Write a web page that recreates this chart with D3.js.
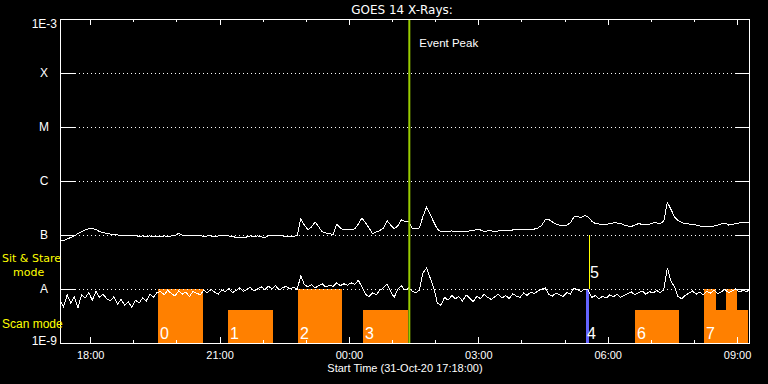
<!DOCTYPE html>
<html><head><meta charset="utf-8">
<script src="https://cdn.jsdelivr.net/npm/d3@7"></script>
<style>html,body{margin:0;padding:0;background:#000;} svg{display:block;}</style>
</head><body>
<svg id="chart" width="768" height="384"></svg>
<script>
// ---------------- data ----------------
const titleText = "GOES 14 X-Rays:";
const startISO = "2020-10-31T17:18:00Z";
const endISO = "2020-11-01T09:18:00Z";
const sampleMinutes = 5;
const FLUX_UNIT = 1e-8; // values below are in units of 1E-8 W/m^2

const longFlux = [
 7.9,7.9,8.4,9.0,9.6,10.7,11.4,12.4,13.1,13.1,
 12.6,11.6,11.1,10.7,10.4,10.2,10.0,9.8,9.8,9.6,
 9.6,9.8,9.4,9.6,9.4,9.6,9.4,9.6,9.4,9.6,
 9.4,9.6,9.8,10.7,10.0,9.8,9.6,9.8,9.6,9.8,
 9.4,9.6,9.6,9.4,9.6,9.8,9.6,9.6,9.4,9.0,
 9.0,9.0,9.2,9.6,9.4,9.6,9.2,9.0,9.6,9.8,
 9.6,9.8,9.6,9.4,9.6,9.4,9.8,20.0,15.3,12.6,
 14.1,17.4,14.1,11.4,10.9,10.7,10.2,15.7,13.5,12.4,
 12.4,12.4,13.0,16.0,20.5,17.0,13.5,10.5,11.4,12.1,
 13.5,18.5,15.3,13.0,14.7,19.0,17.8,18.0,13.5,12.9,
 13.5,22.0,33.0,24.0,17.4,12.9,11.4,11.4,11.4,11.9,
 11.6,11.4,11.4,11.6,11.9,11.9,12.9,12.4,11.6,11.9,
 11.9,11.6,11.9,12.1,11.9,12.1,12.4,12.9,12.6,12.9,
 12.9,12.6,12.9,13.5,15.0,19.0,19.5,17.4,16.0,15.3,
 15.0,15.3,16.7,21.5,22.0,21.0,23.0,21.5,18.0,16.3,
 16.0,15.7,15.7,16.3,16.7,16.7,16.3,15.3,14.7,14.4,
 15.3,16.3,15.7,15.3,15.7,16.7,16.7,16.3,18.0,40.0,
 30.0,21.5,18.5,17.0,16.3,16.0,15.7,15.3,14.7,14.4,
 14.4,14.4,14.7,15.3,16.0,16.7,15.3,15.7,16.3,16.7,
 17.0,17.0,17.0
];

const shortFlux = [
 0.62,0.47,0.78,0.55,0.72,0.45,
 0.78,0.68,0.85,0.62,0.90,0.70,0.80,0.66,
 0.60,0.72,0.52,0.64,0.50,0.58,0.46,0.62,0.55,0.68,0.60,
 0.80,0.70,0.86,
 0.90,0.78,0.95,0.82,0.74,0.92,0.80,0.88,0.72,0.90,0.84,0.78,
 0.95,0.85,0.98,0.88,0.80,0.96,0.90,1.02,0.86,0.94,1.05,0.90,0.98,1.08,0.92,1.00,
 1.10,0.98,1.12,1.02,1.15,0.96,1.06,1.12,1.00,1.08,0.98,
 1.76,1.20,
 1.10,1.20,1.05,1.15,1.25,1.08,1.18,1.12,1.30,
 1.15,1.25,1.18,1.30,1.22,1.45,
 1.10,0.80,0.72,0.85,0.78,
 0.95,1.05,1.25,0.90,0.70,1.00,1.15,0.95,1.05,
 0.92,0.85,0.95,
 2.00,2.45,
 1.60,1.05,
 0.55,0.50,
 0.70,0.62,0.76,0.66,0.72,0.60,0.78,0.68,0.58,0.74,0.66,0.80,0.70,0.64,
 0.72,0.80,0.68,0.76,0.66,0.82,0.74,0.70,0.84,0.76,0.88,0.82,0.92,0.98,
 1.05,
 0.80,0.74,0.84,0.78,0.72,0.86,0.80,
 1.04,0.98,0.90,
 1.00,0.95,
 0.70,0.76,0.66,0.74,0.68,0.78,0.72,0.80,0.70,0.76,
 0.82,0.88,0.78,0.86,0.92,0.80,0.90,0.84,0.94,0.86,0.96,
 2.48,
 1.40,1.10,
 0.72,0.66,0.76,
 0.84,0.92,0.80,0.88,0.78,0.90,0.84,0.95,0.82,0.88,0.98,0.86,0.92,1.00,0.88,0.94,0.90,0.96
];

const levelValues = [1e-3, 1e-4, 1e-5, 1e-6, 1e-7, 1e-8, 1e-9];
const levelLabels = ["1E-3", "X", "M", "C", "B", "A", "1E-9"];

// observation blocks (times on 31-Oct / 01-Nov)
const obsIds   = ["0", "1", "2", "3", "6", "7", "", "", ""];
const obsStart = ["19:34", "21:12", "22:49", "00:20", "06:38", "08:14", "08:31", "08:45", "09:00"];
const obsEnd   = ["20:37", "22:14", "23:50", "01:22", "07:39", "08:31", "08:45", "09:00", "09:15"];
const obsMode  = ["stare", "scan", "stare", "scan", "scan", "stare", "scan", "stare", "scan"];
const modeTopFlux = { stare: 1e-8, scan: 4.1e-9 };

const obs4 = { id: "4", start: "05:30", end: "05:34", low: 1e-9, high: 1e-8 };
const obs5 = { id: "5", time: "05:34", low: 1e-8, high: 1e-7 };
const eventPeakTime = "01:24";

// ---------------- helpers ----------------
const t0 = new Date(startISO), t1 = new Date(endISO);
function clock(hm) {
  const [h, m] = hm.split(":").map(Number);
  const day = h >= 17 ? 31 : 32; // Date.UTC rolls day 32 of Oct to 1 Nov
  return new Date(Date.UTC(2020, 9, day, h, m));
}
const sampleTime = i => new Date(t0.getTime() + i * sampleMinutes * 60000);

// ---------------- scales ----------------
const L = 60, R = 750, T = 19, B = 343;
const x = d3.scaleUtc().domain([t0, t1]).range([L, R]);
const y = d3.scaleLog().domain([1e-9, 1e-3]).range([B, T]);

const svg = d3.select("#chart");
svg.append("rect").attr("width", 768).attr("height", 384).attr("fill", "#000");
const FONT = "'Liberation Sans', Arial, sans-serif";

// observation blocks
const obs = obsIds.map((id, i) => ({ id, s: clock(obsStart[i]), e: clock(obsEnd[i]), mode: obsMode[i] }));
svg.append("g").selectAll("rect").data(obs).join("rect")
  .attr("x", d => Math.round(x(d.s)))
  .attr("width", d => Math.round(x(d.e)) - Math.round(x(d.s)))
  .attr("y", d => Math.round(y(modeTopFlux[d.mode])))
  .attr("height", d => B - Math.round(y(modeTopFlux[d.mode])))
  .attr("fill", "#ff8000").attr("shape-rendering", "crispEdges");

// blue block 4
svg.append("rect")
  .attr("x", Math.round(x(clock(obs4.start))))
  .attr("width", Math.max(3, Math.round(x(clock(obs4.end))) - Math.round(x(clock(obs4.start)))))
  .attr("y", Math.round(y(obs4.high)))
  .attr("height", Math.round(y(obs4.low)) - Math.round(y(obs4.high)))
  .attr("fill", "#6464ff").attr("shape-rendering", "crispEdges");

// yellow line 5
svg.append("line")
  .attr("x1", Math.round(x(clock(obs5.time))) + 0.5).attr("x2", Math.round(x(clock(obs5.time))) + 0.5)
  .attr("y1", y(obs5.high)).attr("y2", y(obs5.low))
  .attr("stroke", "#ffff00").attr("stroke-width", 1).attr("shape-rendering", "crispEdges");

// dotted level lines
svg.append("g").selectAll("line").data(levelValues.slice(1, 6)).join("line")
  .attr("x1", L + 15).attr("x2", R - 14)
  .attr("y1", d => Math.round(y(d)) + 0.5).attr("y2", d => Math.round(y(d)) + 0.5)
  .attr("stroke", "#fff").attr("stroke-width", 1).attr("stroke-dasharray", "1,3");

// curves
const line = d3.line().x((d, i) => x(sampleTime(i))).y(d => y(d * FLUX_UNIT));
svg.append("path").datum(longFlux).attr("d", line)
  .attr("fill", "none").attr("stroke", "#fff").attr("stroke-width", 1).attr("shape-rendering", "crispEdges");
svg.append("path").datum(shortFlux).attr("d", line)
  .attr("fill", "none").attr("stroke", "#fff").attr("stroke-width", 1).attr("shape-rendering", "crispEdges");

// block labels
svg.append("g").selectAll("text").data(obs.filter(d => d.id !== "")).join("text")
  .attr("x", d => Math.round(x(d.s)) + 2).attr("y", 339)
  .attr("fill", "#fff").attr("font-family", FONT).attr("font-size", 16).text(d => d.id);
svg.append("text").attr("x", Math.round(x(clock(obs4.start))) + 1).attr("y", 339)
  .attr("fill", "#fff").attr("font-family", FONT).attr("font-size", 16).text(obs4.id);
svg.append("text").attr("x", Math.round(x(clock(obs5.time))) + 1).attr("y", 278)
  .attr("fill", "#fff").attr("font-family", FONT).attr("font-size", 16).text(obs5.id);

// event peak line
const ex = x(clock(eventPeakTime));
svg.append("line").attr("x1", ex).attr("x2", ex).attr("y1", T).attr("y2", B)
  .attr("stroke", "#99cc00").attr("stroke-width", 2);
svg.append("text").attr("x", ex + 10).attr("y", 47).attr("fill", "#fff")
  .attr("font-family", FONT).attr("font-size", 11.5).text("Event Peak");

// frame
svg.append("rect").attr("x", L + 0.5).attr("y", T + 0.5).attr("width", R - L - 1).attr("height", B - T)
  .attr("fill", "none").attr("stroke", "#fff").attr("stroke-width", 1).attr("shape-rendering", "crispEdges");

// time axes
const hours = d3.utcHour.range(t0, t1);
const majors = hours.filter(d => d.getUTCHours() % 3 === 0);
const minors = hours.filter(d => d.getUTCHours() % 3 !== 0);
function styleAxis(g) {
  g.select(".domain").remove();
  g.selectAll("line").attr("stroke", "#fff").attr("shape-rendering", "crispEdges");
  g.selectAll("text").attr("fill", "#fff").attr("font-family", FONT).attr("font-size", 11);
}
svg.append("g").attr("transform", `translate(0,${B})`)
  .call(d3.axisBottom(x).tickValues(minors).tickSize(-3).tickFormat("")).call(styleAxis);
svg.append("g").attr("transform", `translate(0,${B})`)
  .call(d3.axisBottom(x).tickValues(majors).tickSize(-6).tickPadding(8).tickFormat(d3.utcFormat("%H:%M"))).call(styleAxis);
svg.append("g").attr("transform", `translate(0,${T})`)
  .call(d3.axisTop(x).tickValues(minors).tickSize(-3).tickFormat("")).call(styleAxis);
svg.append("g").attr("transform", `translate(0,${T})`)
  .call(d3.axisTop(x).tickValues(majors).tickSize(-6).tickFormat("")).call(styleAxis);

// level axes
const yl = svg.append("g").attr("transform", `translate(${L},0)`)
  .call(d3.axisLeft(y).tickValues(levelValues).tickSize(-15).tickPadding(3)
    .tickFormat((d, i) => levelLabels[i])).call(styleAxis);
yl.selectAll("text").attr("font-size", 12)
  .each(function (d, i) {
    const s = d3.select(this);
    if (levelLabels[i].length === 1) s.attr("text-anchor", "middle").attr("x", -16);
    if (i === 0) s.attr("dy", "0.72em");
    if (i === levelValues.length - 1) s.attr("dy", "0.1em");
  });
svg.append("g").attr("transform", `translate(${R},0)`)
  .call(d3.axisRight(y).tickValues(levelValues.slice(1, 6)).tickSize(-14).tickFormat("")).call(styleAxis);

// titles
svg.append("text").attr("x", 402).attr("y", 14).attr("text-anchor", "middle").attr("fill", "#fff")
  .attr("font-family", "'DejaVu Sans', sans-serif").attr("font-size", 12).text(titleText);
svg.append("text").attr("x", 405).attr("y", 372).attr("text-anchor", "middle").attr("fill", "#fff")
  .attr("font-family", FONT).attr("font-size", 11).text("Start Time (31-Oct-20 17:18:00)");

// mode labels
svg.append("text").attr("x", 2).attr("y", 262).attr("fill", "#ffff00")
  .attr("font-family", "'DejaVu Sans', sans-serif").attr("font-size", 11).text("Sit & Stare");
svg.append("text").attr("x", 13).attr("y", 276).attr("fill", "#ffff00")
  .attr("font-family", "'DejaVu Sans', sans-serif").attr("font-size", 11).text("mode");
svg.append("text").attr("x", 2).attr("y", 328).attr("fill", "#ffff00")
  .attr("font-family", FONT).attr("font-size", 12).text("Scan mode");
</script>
</body></html>
